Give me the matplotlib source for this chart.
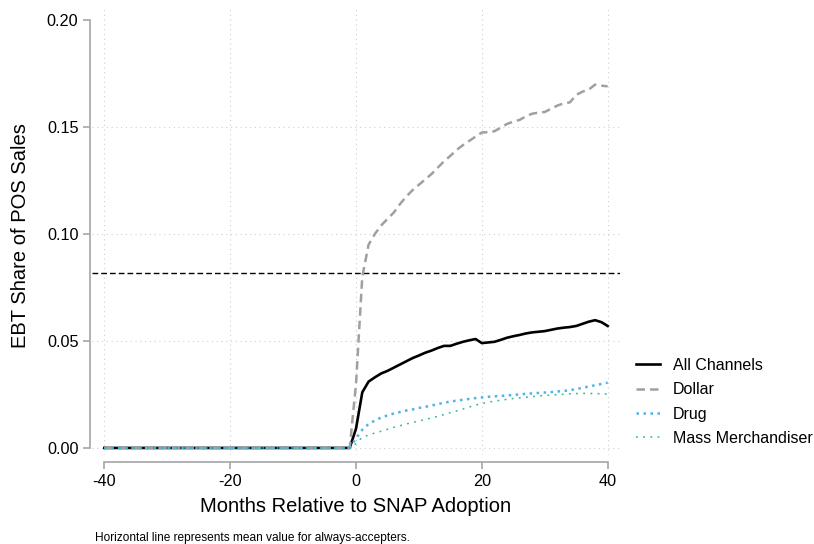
import numpy as np
import matplotlib
matplotlib.use("Agg")
import matplotlib.pyplot as plt

plt.rcParams['font.family'] = ['Liberation Sans', 'DejaVu Sans']
plt.rcParams['axes.unicode_minus'] = False

# months relative to adoption
months = np.arange(-40, 41)

# before adoption every channel sits at zero (months -40 .. -1)
pre_period = [0.0, 0.0, 0.0, 0.0, 0.0, 0.0, 0.0, 0.0, 0.0, 0.0,
              0.0, 0.0, 0.0, 0.0, 0.0, 0.0, 0.0, 0.0, 0.0, 0.0,
              0.0, 0.0, 0.0, 0.0, 0.0, 0.0, 0.0, 0.0, 0.0, 0.0,
              0.0, 0.0, 0.0, 0.0, 0.0, 0.0, 0.0, 0.0, 0.0, 0.0]

# months 0 .. 40
all_channels = [0.009, 0.026, 0.031, 0.033, 0.0348, 0.036, 0.0375, 0.039, 0.0405, 0.042,
                0.0432, 0.0445, 0.0455, 0.0467, 0.0477, 0.0477, 0.0487, 0.0496, 0.0503, 0.0509,
                0.049, 0.0493, 0.0496, 0.0505, 0.0515, 0.0522, 0.0528, 0.0535, 0.054, 0.0543,
                0.0546, 0.0552, 0.0558, 0.0562, 0.0565, 0.057, 0.058, 0.059, 0.0597, 0.0588,
                0.057]
dollar = [0.03, 0.08, 0.095, 0.1, 0.104, 0.107, 0.11, 0.114, 0.1175, 0.1205,
          0.123, 0.1255, 0.128, 0.131, 0.134, 0.1365, 0.1393, 0.1415, 0.1435, 0.1455,
          0.1474, 0.1476, 0.148, 0.1497, 0.1514, 0.1525, 0.1533, 0.155, 0.1562, 0.1567,
          0.157, 0.1585, 0.16, 0.161, 0.1615, 0.165, 0.1665, 0.1675, 0.1698, 0.1693,
          0.169]
drug = [0.0045, 0.0085, 0.0112, 0.0128, 0.0142, 0.0152, 0.0161, 0.0168, 0.0175, 0.018,
        0.0187, 0.0192, 0.0198, 0.0205, 0.0211, 0.0217, 0.0221, 0.0225, 0.0229, 0.0233,
        0.0236, 0.0239, 0.0241, 0.0243, 0.0245, 0.0248, 0.025, 0.0253, 0.0255, 0.0257,
        0.0259, 0.0261, 0.0264, 0.0266, 0.027, 0.0275, 0.0281, 0.0287, 0.0293, 0.0299,
        0.0305]
mass_merch = [0.002, 0.005, 0.006, 0.007, 0.0078, 0.0087, 0.0096, 0.0104, 0.0112, 0.0119,
              0.0126, 0.0133, 0.014, 0.0148, 0.0156, 0.0165, 0.0173, 0.0182, 0.0191, 0.02,
              0.0207, 0.0213, 0.0219, 0.0223, 0.0227, 0.0231, 0.0234, 0.0237, 0.024, 0.0243,
              0.0245, 0.0247, 0.0249, 0.0251, 0.0253, 0.0254, 0.0255, 0.0255, 0.0254, 0.0253,
              0.0252]

always_accepters_mean = 0.0818

x_ticks = [-40, -20, 0, 20, 40]
y_ticks = [0.00, 0.05, 0.10, 0.15, 0.20]
y_grid = [0.00, 0.05, 0.10, 0.15]

W, H = 814, 544
fig = plt.figure(figsize=(W / 100, H / 100), dpi=100)
ax = fig.add_axes([92 / W, (H - 455) / H, (620 - 92) / W, (455 - 8) / H])

# dotted grid
grid_kw = dict(color='#CFCFCF', lw=0.8, ls=(0, (1, 3.3)), zorder=0)
for g in y_grid:
    ax.axhline(g, **grid_kw)
for g in x_ticks:
    ax.axvline(g, **grid_kw)

ax.axhline(always_accepters_mean, color='black', lw=1.0, ls=(0, (4.1, 2.2)), zorder=1)

ax.plot(months, pre_period + all_channels, color='black', lw=1.9, label='All Channels', zorder=2)
ax.plot(months, pre_period + dollar, color='#A0A0A0', lw=1.8, ls=(0, (3.4, 2.0)),
        label='Dollar', zorder=3)
ax.plot(months, pre_period + drug, color='#4EB3E8', lw=1.8, ls=(0, (1, 1.8)),
        label='Drug', zorder=4)
ax.plot(months, pre_period + mass_merch, color='#33B595', lw=1.1, ls=(0, (1.2, 3.5)),
        label='Mass Merchandiser', zorder=5)

ax.set_xlim(-41.96, 41.96)
ax.set_ylim(-0.0033, 0.2056)

for side in ['top', 'right']:
    ax.spines[side].set_visible(False)
ax.spines['left'].set_position(('outward', 1.8))
ax.spines['bottom'].set_position(('outward', 4.7))
ax.spines['left'].set_bounds(0, 0.20)
ax.spines['bottom'].set_bounds(-40, 40)
for side in ['left', 'bottom']:
    ax.spines[side].set_color('#A6A6A6')
    ax.spines[side].set_linewidth(1.2)

ax.set_xticks(x_ticks)
ax.set_xticklabels([str(t) for t in x_ticks])
ax.set_yticks(y_ticks)
ax.set_yticklabels(['%.2f' % t for t in y_ticks])
ax.tick_params(axis='both', direction='out', length=5, width=1.2, color='#A6A6A6',
               labelcolor='black', labelsize=11.7)
ax.tick_params(axis='y', pad=3)
ax.tick_params(axis='x', pad=4)

fig.text(21 / W, 1 - 236 / H, 'EBT Share of POS Sales', rotation=90,
         ha='center', va='center', fontsize=14.5)
fig.text(356 / W, 1 - 506 / H, 'Months Relative to SNAP Adoption',
         ha='center', va='center', fontsize=14.5)
fig.text(95 / W, 1 - 538 / H, 'Horizontal line represents mean value for always-accepters.',
         ha='left', va='center', fontsize=8.55)

fig.legend(loc='upper left', bbox_to_anchor=(636 / W, 1 - 358 / H), frameon=False,
           fontsize=11.5, handlelength=1.5, handletextpad=0.8, labelspacing=0.58,
           borderpad=0, borderaxespad=0)

fig.savefig('out.png', dpi=100)
